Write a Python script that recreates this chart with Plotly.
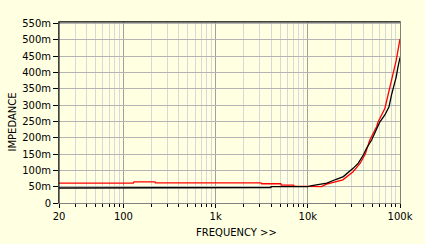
import plotly.graph_objects as go

# Frequency (Hz) and impedance (milliohms)
freq_red = [20, 128, 130, 220, 222, 3100, 3150, 5100, 5150, 7000, 7100, 11000,
            14000, 16000, 20000, 24000, 31000, 37000, 42000, 47000, 55700,
            58000, 68500, 80700, 88000, 91000, 100000]
imp_red = [61, 61, 65, 65, 62, 62, 59, 59, 55, 55, 52, 50,
           50, 58, 64, 71, 96, 122, 150, 193, 234,
           249, 290, 376, 417, 437, 503]

freq_black = [20, 1980, 2000, 3970, 4000, 10000, 11100, 16100, 20000, 24300,
              31200, 35300, 40000, 43400, 49200, 60600, 68500, 76000, 80700,
              91000, 95000, 100000]
imp_black = [46, 46, 47.6, 47.6, 50.5, 50.5, 53, 61, 72, 81,
             107, 122, 147, 168, 193, 249, 270, 295, 330,
             387, 417, 446]

x_tickvals = [20, 100, 1000, 10000, 100000]
x_ticktext = ["20", "100", "1k", "10k", "100k"]
x_minor = [30, 40, 50, 60, 70, 80, 90,
           200, 300, 400, 500, 600, 700, 800, 900,
           2000, 3000, 4000, 5000, 6000, 7000, 8000, 9000,
           20000, 30000, 40000, 50000, 60000, 70000, 80000, 90000]
y_tickvals = [0, 50, 100, 150, 200, 250, 300, 350, 400, 450, 500, 550]
y_ticktext = ["0"] + [f"{v}m" for v in y_tickvals[1:]]

BG = "#FFFFE1"
FONT = "DejaVu Sans"

fig = go.Figure()
fig.add_trace(go.Scatter(x=freq_red, y=imp_red, mode="lines",
                         line=dict(color="#FF0000", width=1.3)))
fig.add_trace(go.Scatter(x=freq_black, y=imp_black, mode="lines",
                         line=dict(color="#000000", width=1.3)))

fig.update_layout(
    width=425, height=244,
    margin=dict(l=59, r=23, t=22, b=41),
    paper_bgcolor=BG, plot_bgcolor=BG,
    showlegend=False,
    font=dict(family=FONT, size=10, color="#000000"),
    xaxis=dict(
        type="log", range=[1.30103, 5.0],
        tickvals=x_tickvals, ticktext=x_ticktext,
        ticks="outside", ticklen=4, tickcolor="#000000",
        showgrid=True, gridcolor="#A0A0A0", gridwidth=1,
        minor=dict(tickvals=x_minor, ticks="outside", ticklen=3,
                   tickcolor="#000000", showgrid=True,
                   gridcolor="#D8D8D8", gridwidth=1),
        showline=True, linecolor="#808080", linewidth=1, mirror=True,
        zeroline=False, fixedrange=True,
    ),
    yaxis=dict(
        range=[0, 555],
        tickvals=y_tickvals, ticktext=y_ticktext,
        ticks="outside", ticklen=5, tickcolor="#000000",
        showgrid=True, gridcolor="#B4B4B4", gridwidth=1,
        showline=True, linecolor="#808080", linewidth=1, mirror=True,
        zeroline=False, fixedrange=True,
    ),
    annotations=[
        dict(text="FREQUENCY >>", xref="paper", yref="paper",
             x=0.52, y=-0.165, xanchor="center", yanchor="middle",
             showarrow=False, font=dict(family=FONT, size=10)),
        dict(text="IMPEDANCE", xref="paper", yref="paper",
             x=-0.135, y=0.45, xanchor="center", yanchor="middle",
             textangle=-90, showarrow=False, font=dict(family=FONT, size=10)),
    ],
    shapes=[
        dict(type="line", xref="paper", yref="paper", x0=0, x1=1, y0=1, y1=1,
             line=dict(color="#000000", width=1)),
        dict(type="line", xref="paper", yref="paper", x0=0, x1=0, y0=0, y1=1,
             line=dict(color="#000000", width=1)),
    ],
)

fig.write_html("out.html")
